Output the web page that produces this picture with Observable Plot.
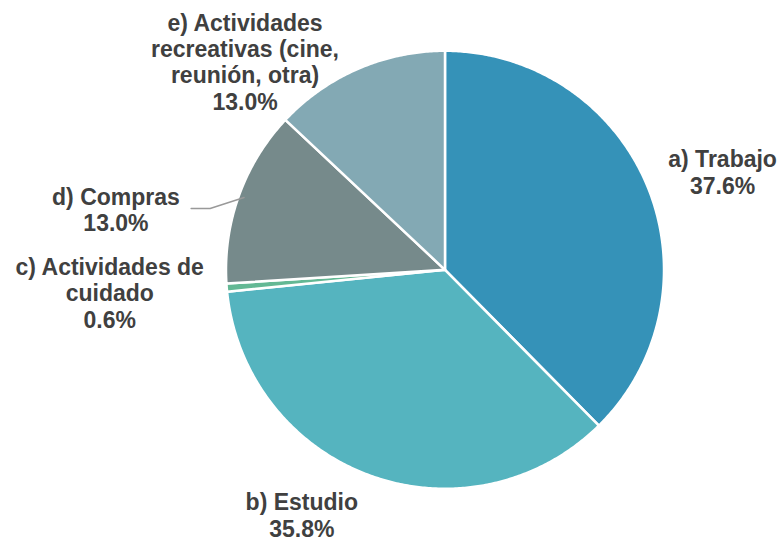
<!DOCTYPE html>
<html>
<head>
<meta charset="utf-8">
<script src="https://cdn.jsdelivr.net/npm/d3@7"></script>
<script src="https://cdn.jsdelivr.net/npm/@observablehq/plot@0.6"></script>
<style>
  html, body { margin: 0; padding: 0; background: #fff; }
  #chart { width: 782px; height: 542px; }
</style>
</head>
<body>
<div id="chart"></div>
<script>
// ---- Data ----
const categories = ["a) Trabajo", "b) Estudio", "c) Actividades de cuidado", "d) Compras", "e) Actividades recreativas (cine, reunión, otra)"];
const labelTexts = ["a) Trabajo", "b) Estudio", "c) Actividades de\ncuidado", "d) Compras", "e) Actividades\nrecreativas (cine,\nreunión, otra)"];
const values = [37.6, 35.8, 0.6, 13.0, 13.0];
const colors = ["#3592B8", "#55B4BF", "#63B894", "#768A8B", "#83A9B4"];

// ---- Layout (pixels) ----
const W = 782, H = 542;
const cx = 444.5, cy = 269.3, R = 219;
// label offsets from the slice mid-angle point on the rim (px)
const labelOffsets = [[75, -14.5], [-69, 39], [-117, 5], [-123, 14], [-113, -7]];

const xDomain = [-cx / R, (W - cx) / R];
const yDomain = [-(H - cy) / R, cy / R];

// ---- Build slices ----
const total = d3.sum(values);
let acc = 0;
const slices = values.map((v, i) => {
  const a0 = acc / total * 2 * Math.PI;
  acc += v;
  const a1 = acc / total * 2 * Math.PI;
  return {name: categories[i], value: v, a0, a1, mid: (a0 + a1) / 2, i};
});
const polyPts = [];
for (const s of slices) {
  polyPts.push({name: s.name, x: 0, y: 0});
  const n = Math.max(2, Math.ceil((s.a1 - s.a0) / (Math.PI / 360)));
  for (let k = 0; k <= n; k++) {
    const a = s.a0 + (s.a1 - s.a0) * k / n;
    polyPts.push({name: s.name, x: Math.sin(a), y: Math.cos(a)});
  }
  polyPts.push({name: s.name, x: 0, y: 0});
}

const labels = slices.map(s => ({
  name: s.name,
  x: Math.sin(s.mid),
  y: Math.cos(s.mid),
  dx: labelOffsets[s.i][0],
  dy: labelOffsets[s.i][1],
  text: labelTexts[s.i] + "\n" + s.value.toFixed(1) + "%"
}));

// leader line for d) Compras
const dS = slices[3];
const leader = [
  {x: Math.sin(dS.mid) * 0.975 - 53 / R, y: Math.cos(dS.mid) * 0.975 - 11 / R},
  {x: Math.sin(dS.mid) * 0.975 - 34 / R, y: Math.cos(dS.mid) * 0.975 - 11 / R},
  {x: Math.sin(dS.mid) * 0.975, y: Math.cos(dS.mid) * 0.975}
];

const textMarks = labels.map(l => Plot.text([l], {
  x: "x", y: "y", text: "text",
  dx: l.dx, dy: l.dy,
  textAnchor: "middle", lineAnchor: "middle", lineHeight: 1.15,
  fill: "#404040", fontSize: 23, fontWeight: "bold",
  fontFamily: "'Liberation Sans', Arial, sans-serif"
}));

const chart = Plot.plot({
  width: W, height: H,
  margin: 0,
  x: {domain: xDomain, axis: null},
  y: {domain: yDomain, axis: null},
  color: {domain: categories, range: colors},
  style: {background: "#fff"},
  marks: [
    Plot.line(polyPts, {x: "x", y: "y", z: "name", fill: "name", stroke: "#fff", strokeWidth: 2.5, curve: "linear", strokeLinejoin: "round"}),
    Plot.line(leader, {x: "x", y: "y", stroke: "#999", strokeWidth: 1.4}),
    ...textMarks
  ]
});
document.getElementById("chart").appendChild(chart);
</script>
</body>
</html>
